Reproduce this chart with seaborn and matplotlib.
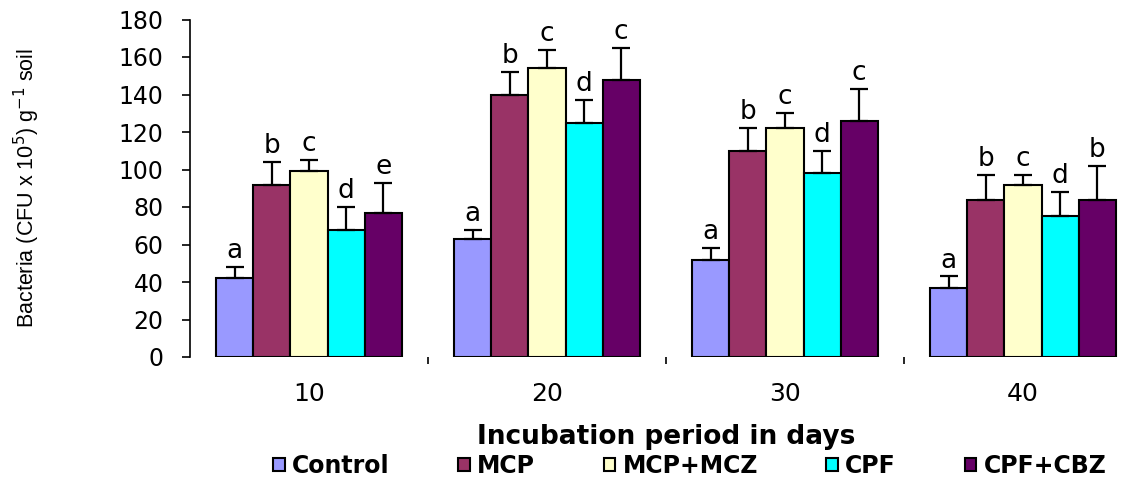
import numpy as np
import pandas as pd
import matplotlib
matplotlib.use("Agg")
import matplotlib.pyplot as plt
import seaborn as sns
from matplotlib.ticker import FixedLocator

# ---------------- data ----------------
days = ["10", "20", "30", "40"]
treatments = ["Control", "MCP", "MCP+MCZ", "CPF", "CPF+CBZ"]
colors = ["#9999FF", "#993366", "#FFFFCC", "#00FFFF", "#660066"]

control = [42, 63, 52, 37]
mcp = [92, 140, 110, 84]
mcp_mcz = [99, 154, 122, 92]
cpf = [68, 125, 98, 75]
cpf_cbz = [77, 148, 126, 84]

control_err = [6, 5, 6, 6]
mcp_err = [12, 12, 12, 13]
mcp_mcz_err = [6, 10, 8, 5]
cpf_err = [12, 12, 12, 13]
cpf_cbz_err = [16, 17, 17, 18]

control_letters = ["a", "a", "a", "a"]
mcp_letters = ["b", "b", "b", "b"]
mcp_mcz_letters = ["c", "c", "c", "c"]
cpf_letters = ["d", "d", "d", "d"]
cpf_cbz_letters = ["e", "c", "c", "b"]

values = [control, mcp, mcp_mcz, cpf, cpf_cbz]
errors = [control_err, mcp_err, mcp_mcz_err, cpf_err, cpf_cbz_err]
letters = [control_letters, mcp_letters, mcp_mcz_letters, cpf_letters, cpf_cbz_letters]

rows = []
for t, vals, errs, lets in zip(treatments, values, errors, letters):
    for d, v, e, l in zip(days, vals, errs, lets):
        rows.append({"day": d, "treatment": t, "value": v, "err": e, "letter": l})
df = pd.DataFrame(rows)

# ---------------- style ----------------
sns.set_style("white")
plt.rcParams["font.family"] = ["DejaVu Sans"]
plt.rcParams["text.color"] = "black"
plt.rcParams["axes.labelcolor"] = "black"
plt.rcParams["xtick.color"] = "black"
plt.rcParams["ytick.color"] = "black"

W, H = 1142, 479
fig = plt.figure(figsize=(W / 100, H / 100), dpi=100)
ax = fig.add_axes([190 / W, 1 - 357 / H, 952 / W, 337.5 / H])

sns.barplot(data=df, x="day", y="value", hue="treatment", order=days,
            hue_order=treatments, palette=colors, width=0.78,
            edgecolor="black", linewidth=1.5, errorbar=None, ax=ax,
            saturation=1)

# error bars (upper only) and significance letters
for cont, t in zip(ax.containers, treatments):
    sub = df[df["treatment"] == t].set_index("day").loc[days]
    xs = [b.get_x() + b.get_width() / 2 for b in cont]
    hs = [b.get_height() for b in cont]
    errs = sub["err"].to_numpy()
    ax.errorbar(xs, hs, yerr=[np.zeros(len(errs)), errs], fmt="none",
                ecolor="black", elinewidth=1.6, capsize=6.5, capthick=1.6,
                zorder=1)
    for x, h, e, l in zip(xs, hs, errs, sub["letter"]):
        ax.annotate(l, (x, h + e), xytext=(0, 2), textcoords="offset points",
                    ha="center", va="bottom", fontsize=19, color="black")

ax.set_ylim(0, 180)
ax.set_xlim(-0.5, 3.5)
ax.set_yticks(np.arange(0, 181, 20))
ax.tick_params(axis="y", direction="out", length=6, width=1.2, pad=13,
               labelsize=17, left=True, color="black")
ax.tick_params(axis="x", which="major", length=0, pad=18, labelsize=18)
ax.xaxis.set_minor_locator(FixedLocator([0.5, 1.5, 2.5]))
ax.tick_params(axis="x", which="minor", direction="out", length=5,
               width=1.2, bottom=True, color="black")

for s in ["top", "right", "bottom"]:
    ax.spines[s].set_visible(False)
ax.spines["left"].set_color("black")
ax.spines["left"].set_linewidth(1.2)

ax.set_xlabel("Incubation period in days", fontsize=19, fontweight="bold")
ax.xaxis.set_label_coords(0.5, -0.237)
ax.xaxis.label.set_va("center")
ax.set_ylabel(r"Bacteria (CFU x 10$^5$) g$^{-1}$ soil", fontsize=15.5,
              family="Liberation Sans")
ax.yaxis.set_label_coords(-0.171, 0.5)
ax.yaxis.label.set_va("center")

sns.move_legend(ax, "center", bbox_to_anchor=(0.525, -0.323), ncol=5,
                frameon=False, title=None,
                prop={"weight": "bold", "size": 17},
                handlelength=0.5, handleheight=0.5, columnspacing=2.9,
                handletextpad=0.3)

fig.savefig("out.png", dpi=100)
